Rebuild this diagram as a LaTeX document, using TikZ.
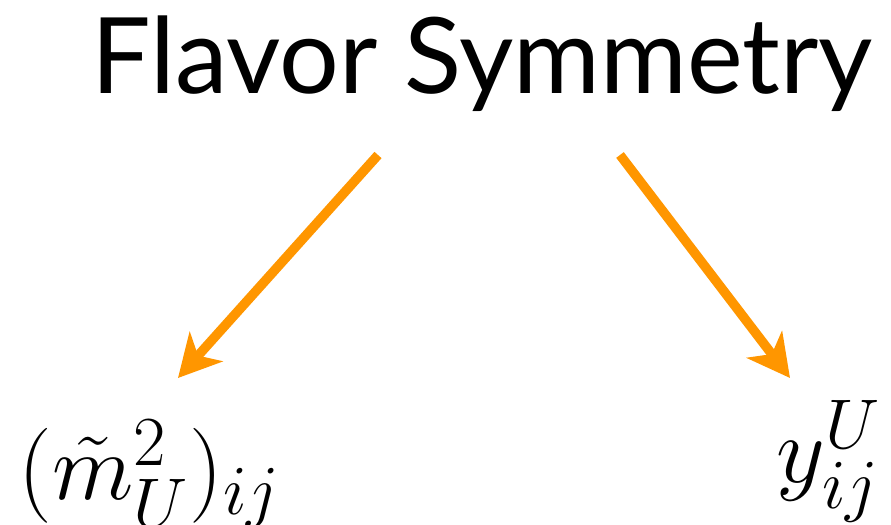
\RequirePackage{fix-cm}
\documentclass[tikz,border=0pt]{standalone}
\usepackage{amsmath}
\usepackage{fontspec}
\setmainfont{Lato}
\usetikzlibrary{arrows.meta,positioning}
\definecolor{naranja}{RGB}{255,150,0}
\DeclareMathSizes{27}{27}{20}{15}

\begin{document}
\begin{tikzpicture}[x=0.01cm,y=-0.01cm,
  titulo/.style = {font=\fontsize{30}{36}\selectfont, inner sep=0pt},
  formula/.style = {font=\fontsize{27}{32}\selectfont, inner sep=0pt},
  flecha/.style = {-{Stealth[length=0.42cm,width=0.44cm,inset=0.12cm]},
                   line width=2.7pt, color=naranja},
]
\useasboundingbox (0,0) rectangle (891,525);
% titulo
\node[titulo, anchor=base] (sym) at (482,94) {Flavor Symmetry};
% resultados
\node[formula, anchor=base west] (masa)  at (18,500) {$(\tilde m_U^2)_{ij}$};
\node[formula, anchor=base east] (yuk)   at (882,483) {$y^U_{ij}$};

% extremos de las flechas
\coordinate (salI) at (378,155);
\coordinate (llegI) at (178,378);
\coordinate (salD) at (620,155);
\coordinate (llegD) at (790,378);

\draw[flecha] (salI) -- (llegI);
\draw[flecha] (salD) -- (llegD);

\end{tikzpicture}
\end{document}
